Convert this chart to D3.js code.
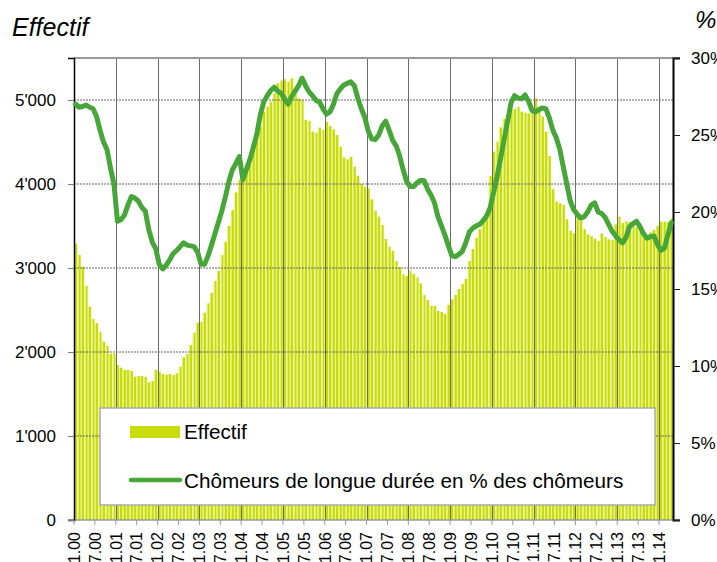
<!DOCTYPE html>
<html>
<head>
<meta charset="utf-8">
<script src="https://cdn.jsdelivr.net/npm/d3@7"></script>
<style>
  body { margin: 0; background: #fff; }
  svg { display: block; font-family: "Liberation Sans", Arial, sans-serif; }
</style>
</head>
<body>
<div id="chart"></div>
<script>
// monthly values, Jan 2000 .. Apr 2014
const startYear = 2000;
const effectif = [
  3290, 3155, 3016, 2785, 2540, 2393, 2343, 2242, 2123, 2075, 1980, 1985, // 2000
  1845, 1813, 1786, 1786, 1774, 1706, 1714, 1714, 1702, 1639, 1655, 1786, // 2001
  1766, 1738, 1730, 1738, 1726, 1746, 1825, 1937, 1976, 2083, 2230, 2349, // 2002
  2357, 2468, 2579, 2706, 2845, 2964, 3155, 3313, 3500, 3690, 3900, 4050, // 2003
  4147, 4238, 4325, 4425, 4563, 4683, 4861, 4921, 4980, 5079, 5198, 5230, // 2004
  5246, 5218, 5258, 5119, 5020, 5000, 4762, 4750, 4623, 4611, 4671, 4643, // 2005
  4742, 4690, 4651, 4583, 4444, 4317, 4294, 4325, 4206, 4099, 4000, 3968, // 2006
  3948, 3817, 3682, 3611, 3512, 3345, 3254, 3204, 3085, 3012, 2925, 2905, // 2007
  2968, 2929, 2889, 2817, 2679, 2619, 2548, 2548, 2492, 2476, 2452, 2560, // 2008
  2627, 2679, 2750, 2810, 2873, 3083, 3226, 3361, 3460, 3556, 3659, 4095, // 2009
  4385, 4504, 4675, 4774, 4821, 4881, 4893, 4921, 4861, 4849, 4841, 4861, // 2010
  5020, 4921, 4802, 4623, 4333, 3937, 3790, 3770, 3750, 3580, 3444, 3413, // 2011
  3651, 3560, 3465, 3400, 3381, 3350, 3323, 3413, 3370, 3341, 3333, 3518, // 2012
  3611, 3535, 3555, 3545, 3520, 3484, 3444, 3413, 3373, 3425, 3452, 3500, // 2013
  3552, 3552, 3544, 3591                                                  // 2014
];
const longueDuree = [
  27.0, 26.8, 26.85, 26.95, 26.8, 26.7, 26.2, 25.3, 24.55, 24.05, 22.85, 21.8,
  19.4, 19.5, 19.8, 20.45, 21.0, 20.9, 20.7, 20.3, 20.05, 18.85, 18.05, 17.6,
  16.6, 16.3, 16.55, 16.9, 17.3, 17.5, 17.75, 18.0, 17.85, 17.8, 17.75, 17.4,
  16.6, 16.6, 17.15, 17.85, 18.6, 19.35, 20.1, 21.0, 22.0, 22.75, 23.15, 23.6,
  22.1, 22.75, 23.4, 24.2, 25.05, 26.3, 27.15, 27.55, 27.9, 28.1, 27.85, 27.7,
  27.35, 27.0, 27.5, 27.85, 28.2, 28.7, 28.2, 27.8, 27.55, 27.25, 27.15, 26.7,
  26.35, 26.5, 27.0, 27.7, 28.0, 28.25, 28.35, 28.45, 28.2, 27.4, 26.7, 26.15,
  25.25, 24.75, 24.7, 25.0, 25.6, 25.9, 25.3, 24.65, 24.3, 23.65, 22.75, 22.0,
  21.65, 21.65, 21.9, 22.05, 22.05, 21.5, 21.1, 20.6, 19.7, 19.1, 18.5, 17.8,
  17.15, 17.1, 17.25, 17.45, 18.0, 18.7, 18.95, 19.1, 19.2, 19.45, 19.75, 20.3,
  21.3, 22.3, 23.5, 24.7, 25.9, 27.1, 27.55, 27.4, 27.35, 27.6, 27.2, 26.6,
  26.5, 26.65, 26.75, 26.7, 26.1, 25.3, 24.8, 24.05, 22.9, 21.8, 20.7, 20.15,
  19.85, 19.6, 19.7, 20.0, 20.45, 20.6, 20.0, 19.9, 19.65, 19.2, 18.75, 18.45,
  18.2, 18.0, 18.35, 19.05, 19.25, 19.4, 19.05, 18.6, 18.3, 18.4, 18.45, 17.9,
  17.5, 17.65, 18.5, 19.3
];
const leftTicks = [0, 1000, 2000, 3000, 4000, 5000];
const rightTicks = [0, 5, 10, 15, 20, 25, 30];
const legendLabels = ["Effectif", "Chômeurs de longue durée en % des chômeurs"];

// month labels like "7.03"
const months = effectif.map((_, i) => `${i % 12 + 1}.${String((startYear + Math.floor(i / 12)) % 100).padStart(2, "0")}`);

const width = 717, height = 562;
const margin = {top: 58, right: 44, bottom: 42, left: 74};
const barColor = "#c8dc06", lineColor = "#46a637";

const svg = d3.select("#chart").append("svg")
  .attr("width", width)
  .attr("height", height);

const grad = svg.append("defs").append("linearGradient")
  .attr("id", "barGrad").attr("x1", 0).attr("x2", 1).attr("y1", 0).attr("y2", 0);
grad.append("stop").attr("offset", 0).attr("stop-color", "#e2ee70");
grad.append("stop").attr("offset", 0.35).attr("stop-color", "#e2ee70");
grad.append("stop").attr("offset", 0.35).attr("stop-color", barColor);
grad.append("stop").attr("offset", 1).attr("stop-color", barColor);

const x = d3.scaleBand()
  .domain(months)
  .range([margin.left, width - margin.right])
  .paddingInner(0.12)
  .paddingOuter(0.04);
// slot scale for ticks/grid on month boundaries
const xs = d3.scaleLinear()
  .domain([0, months.length])
  .range([margin.left, width - margin.right]);
const yL = d3.scaleLinear().domain([0, 5500]).range([height - margin.bottom, margin.top]);
const yR = d3.scaleLinear().domain([0, 30]).range([height - margin.bottom, margin.top]);

const fmt = d3.formatLocale({decimal: ".", thousands: "'", grouping: [3], currency: ["", ""]}).format(",");

// bars
svg.append("g")
  .selectAll("rect")
  .data(effectif)
  .join("rect")
    .attr("x", (d, i) => x(months[i]))
    .attr("y", d => yL(d))
    .attr("width", x.bandwidth())
    .attr("height", d => yL(0) - yL(d))
    .attr("fill", "url(#barGrad)");

// horizontal grid (dotted)
svg.append("g")
  .selectAll("line")
  .data(leftTicks.filter(d => d > 0))
  .join("line")
    .attr("x1", margin.left).attr("x2", width - margin.right)
    .attr("y1", d => yL(d)).attr("y2", d => yL(d))
    .attr("stroke", "#666")
    .attr("stroke-width", 1)
    .attr("stroke-dasharray", "2,1");

// vertical grid on each january
const janIdx = d3.range(12, months.length, 12);
svg.append("g")
  .selectAll("line")
  .data(janIdx)
  .join("line")
    .attr("x1", d => Math.round(xs(d)) + 0.5).attr("x2", d => Math.round(xs(d)) + 0.5)
    .attr("y1", margin.top).attr("y2", height - margin.bottom)
    .attr("stroke", "#6a6a6a")
    .attr("stroke-width", 1);

// frame top and bottom
svg.append("line")
  .attr("x1", margin.left).attr("x2", width - margin.right + 7)
  .attr("y1", margin.top).attr("y2", margin.top)
  .attr("stroke", "#999").attr("stroke-width", 2);
svg.append("line")
  .attr("x1", margin.left - 6).attr("x2", width - margin.right + 7)
  .attr("y1", yL(0)).attr("y2", yL(0))
  .attr("stroke", "#999").attr("stroke-width", 1.5);

// left axis
const axL = svg.append("g")
  .attr("transform", `translate(${margin.left},0)`)
  .call(d3.axisLeft(yL).tickValues(leftTicks).tickFormat(fmt).tickSize(6).tickPadding(12));
axL.select(".domain").attr("stroke", "#000").attr("stroke-width", 1.5);
axL.selectAll(".tick line").attr("stroke", "#777");
axL.selectAll("text").attr("font-size", 17).attr("fill", "#000").attr("font-family", "Liberation Sans, Arial, sans-serif");

// right axis
const axR = svg.append("g")
  .attr("transform", `translate(${width - margin.right},0)`)
  .call(d3.axisRight(yR).tickValues(rightTicks).tickFormat(d => d + "%").tickSize(7).tickPadding(11));
axR.select(".domain").attr("stroke", "#000").attr("stroke-width", 2);
axR.selectAll(".tick line").attr("stroke", "#222");
axR.selectAll("text").attr("font-size", 17).attr("fill", "#000").attr("font-family", "Liberation Sans, Arial, sans-serif");

// bottom ticks + rotated labels every 6 months
const labIdx = d3.range(0, months.length, 6);
const bottom = svg.append("g");
bottom.selectAll("line")
  .data(labIdx)
  .join("line")
    .attr("x1", d => xs(d)).attr("x2", d => xs(d))
    .attr("y1", yL(0)).attr("y2", yL(0) + 5)
    .attr("stroke", "#999");
bottom.selectAll("text")
  .data(labIdx)
  .join("text")
    .attr("transform", d => `translate(${xs(d)},${yL(0) + 12}) rotate(-90)`)
    .attr("text-anchor", "end")
    .attr("dy", "0.36em")
    .attr("font-size", 16)
    .text(d => months[d]);

// line
const line = d3.line()
  .x((d, i) => x(months[i]) + x.bandwidth() / 2)
  .y(d => yR(d));
svg.append("path")
  .datum(longueDuree)
  .attr("d", line)
  .attr("fill", "none")
  .attr("stroke", lineColor)
  .attr("stroke-width", 5)
  .attr("stroke-linejoin", "round")
  .attr("stroke-linecap", "round");

// legend
const legend = svg.append("g");
legend.append("rect")
  .attr("x", 100).attr("y", 408).attr("width", 555).attr("height", 97)
  .attr("fill", "#fff").attr("stroke", "#aaa").attr("stroke-width", 1.5);
legend.append("rect")
  .attr("x", 130).attr("y", 426).attr("width", 50).attr("height", 12)
  .attr("fill", barColor);
legend.append("line")
  .attr("x1", 131).attr("x2", 180).attr("y1", 480).attr("y2", 480)
  .attr("stroke", lineColor).attr("stroke-width", 4.5).attr("stroke-linecap", "round");
legend.selectAll("text")
  .data(legendLabels)
  .join("text")
    .attr("x", 184)
    .attr("y", (d, i) => i ? 488 : 439)
    .attr("font-size", 20.7)
    .text(d => d);

// axis titles
svg.append("text")
  .attr("x", 12).attr("y", 36)
  .attr("font-size", 25).attr("font-style", "italic")
  .text("Effectif");
svg.append("text")
  .attr("x", 695).attr("y", 28)
  .attr("font-size", 24).attr("font-style", "italic")
  .text("%");
</script>
</body>
</html>
